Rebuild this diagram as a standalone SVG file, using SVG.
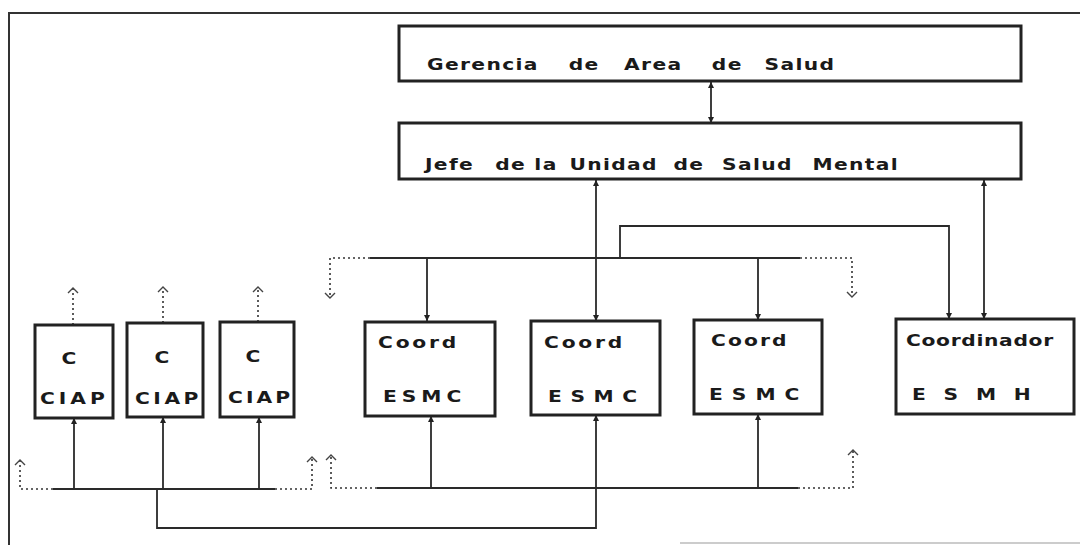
<svg xmlns="http://www.w3.org/2000/svg" width="1080" height="545" viewBox="0 0 1080 545">
<style>
.box{fill:#fff;stroke:#222;stroke-width:3}
.t{font-family:"DejaVu Sans","Liberation Sans",Arial,sans-serif;font-weight:bold;font-size:15px;fill:#1a1a1a}
.w{letter-spacing:1px}
.ln{fill:none;stroke:#2a2a2a;stroke-width:1.8}
.dt{fill:none;stroke:#333;stroke-width:1.6;stroke-dasharray:2 3}
.frame{fill:none;stroke:#333;stroke-width:2}
</style>
<defs>
<marker id="ah" markerUnits="userSpaceOnUse" markerWidth="8" markerHeight="8" refX="6" refY="4" orient="auto-start-reverse">
<path d="M0,1 L6,4 L0,7 Z" fill="#222"/>
</marker>
<marker id="ch" markerUnits="userSpaceOnUse" markerWidth="12" markerHeight="12" refX="6" refY="6" orient="auto">
<path d="M1,1 L6,6 L1,11" fill="none" stroke="#444" stroke-width="1.4"/>
</marker>
</defs>
<rect width="1080" height="545" fill="#fff"/>
<g id="frame">
<path class="frame" d="M9,545 V13 H1080"/>
<path d="M680,543 H1080" stroke="#bbb" stroke-width="1.5"/>
</g>
<g id="connectors">
<path class="ln" d="M711,82 V123" marker-start="url(#ah)" marker-end="url(#ah)"/>
<path class="ln" d="M596,180 V321" marker-start="url(#ah)" marker-end="url(#ah)"/>
<path class="ln" d="M984,180 V319" marker-start="url(#ah)" marker-end="url(#ah)"/>
<path class="ln" d="M620,258 V226 H949 V319" marker-end="url(#ah)"/>
<path class="ln" d="M370,258 H800"/>
<path class="ln" d="M427,258 V321" marker-end="url(#ah)"/>
<path class="ln" d="M758,258 V320" marker-end="url(#ah)"/>
<path class="dt" d="M370,258 H330 V298" marker-end="url(#ch)"/>
<path class="dt" d="M800,258 H852 V297" marker-end="url(#ch)"/>
<path class="ln" d="M377,488 H798"/>
<path class="ln" d="M431,488 V416" marker-end="url(#ah)"/>
<path class="ln" d="M758,488 V414" marker-end="url(#ah)"/>
<path class="ln" d="M157,489 V528 H596 V415" marker-end="url(#ah)"/>
<path class="dt" d="M377,488 H331 V455" marker-end="url(#ch)"/>
<path class="dt" d="M798,488 H853 V450" marker-end="url(#ch)"/>
<path class="ln" d="M53,489 H275"/>
<path class="ln" d="M74,489 V418" marker-end="url(#ah)"/>
<path class="ln" d="M163,489 V417" marker-end="url(#ah)"/>
<path class="ln" d="M259,489 V417" marker-end="url(#ah)"/>
<path class="dt" d="M53,489 H20 V460" marker-end="url(#ch)"/>
<path class="dt" d="M275,489 H312 V457" marker-end="url(#ch)"/>
<path class="dt" d="M73,325 V288" marker-end="url(#ch)"/>
<path class="dt" d="M163,323 V287" marker-end="url(#ch)"/>
<path class="dt" d="M258,322 V287" marker-end="url(#ch)"/>
</g>
<g id="gerencia">
<rect class="box" x="399" y="26" width="622" height="55"/>
<text class="t w" transform="translate(427,70) scale(1.35,1)"><tspan x="0">Gerencia </tspan><tspan x="105">de </tspan><tspan x="146">Area </tspan><tspan x="211">de </tspan><tspan x="250">Salud</tspan></text>
</g>
<g id="jefe">
<rect class="box" x="399" y="123" width="622" height="56"/>
<text class="t w" transform="translate(425,170) scale(1.35,1)"><tspan x="0">Jefe </tspan><tspan x="52">de </tspan><tspan x="81">la </tspan><tspan x="107">Unidad </tspan><tspan x="184">de </tspan><tspan x="220">Salud </tspan><tspan x="287">Mental</tspan></text>
</g>
<g id="ciap1">
<rect class="box" x="35" y="325" width="78" height="93"/>
<text class="t" transform="translate(69,364) scale(1.35,1)" text-anchor="middle">C</text>
<text class="t" transform="translate(40,404) scale(1.35,1)" textLength="48" lengthAdjust="spacing">CIAP</text>
</g>
<g id="ciap2">
<rect class="box" x="127" y="323" width="76" height="94"/>
<text class="t" transform="translate(162,363) scale(1.35,1)" text-anchor="middle">C</text>
<text class="t" transform="translate(135,404) scale(1.35,1)" textLength="47" lengthAdjust="spacing">CIAP</text>
</g>
<g id="ciap3">
<rect class="box" x="220" y="322" width="74" height="95"/>
<text class="t" transform="translate(253,362) scale(1.35,1)" text-anchor="middle">C</text>
<text class="t" transform="translate(228,403) scale(1.35,1)" textLength="46" lengthAdjust="spacing">CIAP</text>
</g>
<g id="coord1">
<rect class="box" x="365" y="322" width="130" height="94"/>
<text class="t" transform="translate(378,348) scale(1.35,1)" textLength="58" lengthAdjust="spacing">Coord</text>
<text class="t" transform="translate(383,402) scale(1.35,1)" textLength="58" lengthAdjust="spacing">ESMC</text>
</g>
<g id="coord2">
<rect class="box" x="531" y="321" width="129" height="94"/>
<text class="t" transform="translate(544,348) scale(1.35,1)" textLength="58" lengthAdjust="spacing">Coord</text>
<text class="t" transform="translate(548,402) scale(1.35,1)" textLength="66" lengthAdjust="spacing">ESMC</text>
</g>
<g id="coord3">
<rect class="box" x="694" y="320" width="128" height="94"/>
<text class="t" transform="translate(711,346) scale(1.35,1)" textLength="56" lengthAdjust="spacing">Coord</text>
<text class="t" transform="translate(709,400) scale(1.35,1)" textLength="67" lengthAdjust="spacing">ESMC</text>
</g>
<g id="coordinador">
<rect class="box" x="896" y="319" width="178" height="95"/>
<text class="t" transform="translate(906,346) scale(1.35,1)" textLength="109" lengthAdjust="spacing">Coordinador</text>
<text class="t" transform="translate(912,400) scale(1.35,1)" textLength="88" lengthAdjust="spacing">ESMH</text>
</g>
</svg>
